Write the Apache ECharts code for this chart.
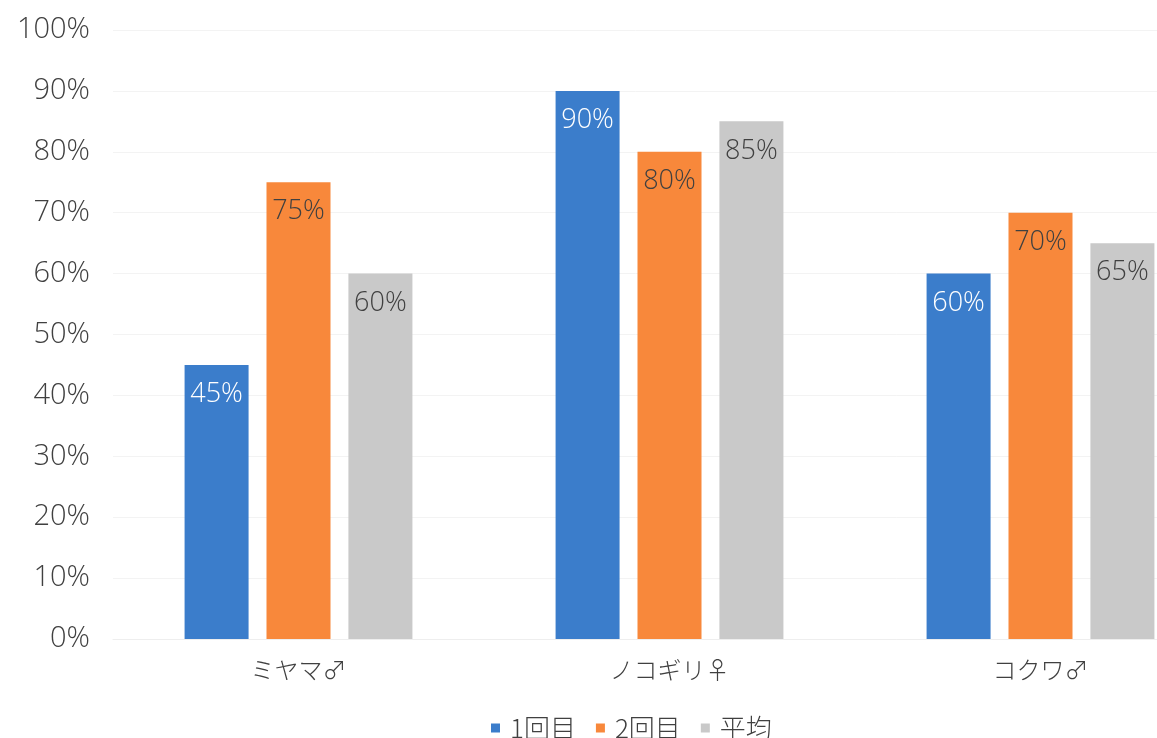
<!DOCTYPE html>
<html>
<head>
<meta charset="utf-8">
<script src="https://cdn.jsdelivr.net/npm/echarts@6/dist/echarts.min.js"></script>
<style>
  html, body { margin: 0; padding: 0; background: #fff; }
  #chart { width: 1157px; height: 738px; }
</style>
</head>
<body>
<div id="chart"></div>
<script>
// Beetle categories and success rates (%)
const categories = ['ミヤマ♂', 'ノコギリ♀', 'コクワ♂'];
const seriesNames = ['1回目', '2回目', '平均'];
const firstTry = [45, 90, 60];
const secondTry = [75, 80, 70];
const average = [60, 85, 65];
const yTicks = [0, 10, 20, 30, 40, 50, 60, 70, 80, 90, 100];

const colors = ['#3b7dcb', '#f8883b', '#c9c9c9'];
const labelColors = ['#ffffff', '#404040', '#404040'];
const numFont = "'Open Sans', 'Noto Sans CJK JP', sans-serif";
const jpFont = "'Noto Sans CJK JP', sans-serif";

const values = [firstTry, secondTry, average];

const chart = echarts.init(document.getElementById('chart'), null, { renderer: 'canvas' });
chart.setOption({
  animation: false,
  backgroundColor: '#ffffff',
  color: colors,
  // the plot area runs past the right edge of the canvas
  grid: {
    left: 113, width: 1113, top: 30, bottom: 99,
    containLabel: false,
    outerBoundsMode: 'none'
  },
  legend: {
    data: seriesNames,
    left: 486,
    top: 710,
    itemWidth: 9,
    itemHeight: 9,
    itemGap: 20,
    icon: 'rect',
    textStyle: { fontFamily: jpFont, fontWeight: 300, fontSize: 26, color: '#404040', padding: [0, 0, 0, 5] }
  },
  xAxis: {
    type: 'category',
    data: categories,
    axisLine: { show: true, lineStyle: { color: '#eeeeee' } },
    axisTick: { show: false },
    axisLabel: { fontFamily: jpFont, fontWeight: 300, fontSize: 24, color: '#404040', margin: 19 }
  },
  yAxis: {
    type: 'value',
    min: yTicks[0],
    max: yTicks[yTicks.length - 1],
    interval: 10,
    axisLine: { show: false },
    axisTick: { show: false },
    splitLine: { lineStyle: { color: '#f3f3f3' } },
    axisLabel: {
      fontFamily: numFont,
      fontWeight: 300,
      fontSize: 29,
      color: '#404040',
      margin: 23,
      formatter: v => v + '%'
    }
  },
  series: seriesNames.map((name, i) => ({
    name: name,
    type: 'bar',
    data: values[i],
    barWidth: 64,
    barGap: '28%',
    itemStyle: { color: colors[i] },
    label: {
      show: true,
      position: 'insideTop',
      distance: 16,
      fontFamily: numFont,
      fontWeight: 300,
      fontSize: 27,
      color: labelColors[i],
      formatter: p => p.value + '%'
    }
  }))
});
</script>
</body>
</html>
